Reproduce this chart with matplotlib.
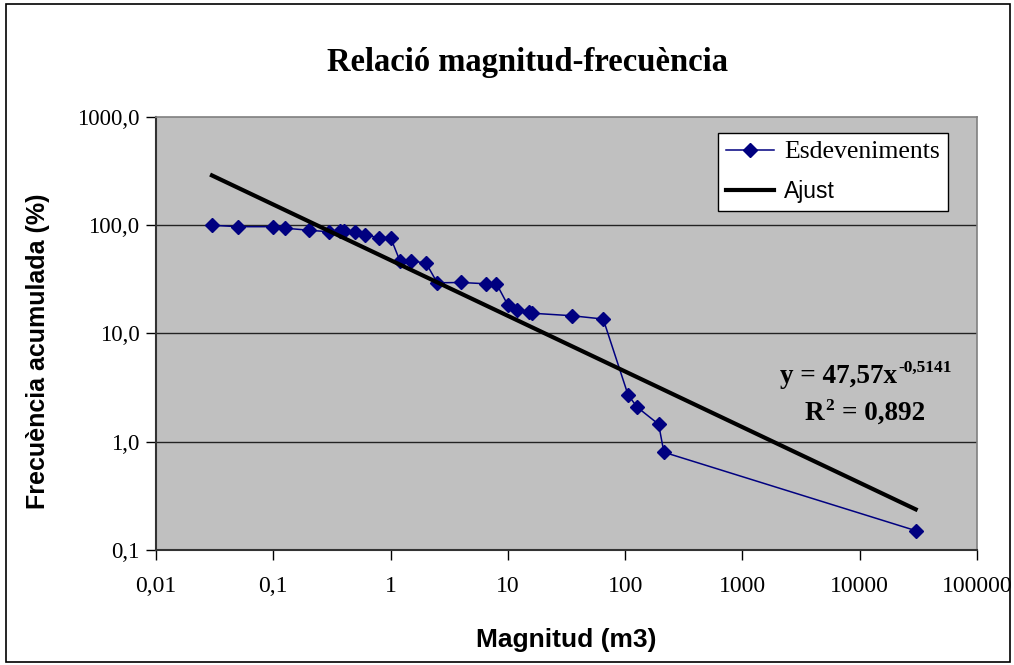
import numpy as np
import matplotlib
matplotlib.use("Agg")
import matplotlib.pyplot as plt
from matplotlib.patches import Rectangle
from matplotlib.ticker import FixedLocator, FixedFormatter, NullLocator

# cumulative frequency of events vs magnitude (m3)
magnitud = [0.03, 0.05, 0.1, 0.125, 0.2, 0.3, 0.37, 0.4, 0.5, 0.6, 0.8, 1.0,
            1.2, 1.5, 2.0, 2.5, 4.0, 6.5, 8.0, 10, 12, 15, 16, 35, 65,
            106, 127, 193, 214, 30000]
frecuencia = [100, 97, 97, 94, 90, 87, 89, 88, 87, 81, 77, 77,
              47, 46.5, 45, 29.4, 29.6, 28.8, 28.8, 18.3, 16.5, 15.9, 15.4,
              14.6, 13.6, 2.7, 2.08, 1.45, 0.80, 0.151]

# power-law fit from the chart
fit_a, fit_b = 47.57, -0.5141
fit_x = np.logspace(np.log10(0.03), np.log10(30000), 200)
fit_y = fit_a * fit_x ** fit_b

xticks = [0.01, 0.1, 1, 10, 100, 1000, 10000, 100000]
xlabels = ["0,01", "0,1", "1", "10", "100", "1000", "10000", "100000"]
yticks = [0.1, 1, 10, 100, 1000]
ylabels = ["0,1", "1,0", "10,0", "100,0", "1000,0"]

SERIF = "Liberation Serif"
SANS = "Liberation Sans"

fig = plt.figure(figsize=(10.14, 6.65), dpi=100)
fig.patches.append(Rectangle((6 / 1014, 3 / 665), 1004 / 1014, 658 / 665,
                             transform=fig.transFigure, fill=False,
                             edgecolor="black", lw=1.2))
ax = fig.add_axes([156 / 1014, 1 - 550 / 665, 821 / 1014, 433 / 665])
ax.set_facecolor("#c0c0c0")
ax.set_xscale("log")
ax.set_yscale("log")
ax.set_xlim(0.01, 100000)
ax.set_ylim(0.1, 1000)

for y in yticks[1:-1]:
    ax.axhline(y, color="#222222", lw=1.0, zorder=1)

ax.plot(magnitud, frecuencia, color="#000080", lw=1.1, marker="D",
        markersize=7, label="Esdeveniments", zorder=3)
ax.plot(fit_x, fit_y, color="black", lw=3, label="Ajust", zorder=4)

ax.xaxis.set_major_locator(FixedLocator(xticks))
ax.xaxis.set_major_formatter(FixedFormatter(xlabels))
ax.yaxis.set_major_locator(FixedLocator(yticks))
ax.yaxis.set_major_formatter(FixedFormatter(ylabels))
ax.xaxis.set_minor_locator(NullLocator())
ax.yaxis.set_minor_locator(NullLocator())
ax.tick_params(direction="out", length=7, width=1, colors="black",
               labelsize=17, pad=12)
ax.tick_params(axis="y", labelsize=16.5, pad=5)
for lab in ax.get_xticklabels() + ax.get_yticklabels():
    lab.set_family(SERIF)

for s in ("left", "bottom"):
    ax.spines[s].set_color("#333333")
    ax.spines[s].set_linewidth(1.5)
for s in ("top", "right"):
    ax.spines[s].set_color("#808080")
    ax.spines[s].set_linewidth(1.2)

fig.text(0.52, 1 - 62 / 665, "Relació magnitud-frecuència", ha="center",
         va="center", family=SERIF, weight="bold", fontsize=23.5)
ax.set_xlabel("Magnitud (m3)", family=SANS, weight="bold", fontsize=19)
ax.xaxis.set_label_coords(0.4994, (550 - 640) / 433)
ax.xaxis.label.set_va("center")
ax.set_ylabel("Frecuència acumulada (%)", family=SANS, weight="bold",
              fontsize=18)
ax.yaxis.set_label_coords((38 - 156) / 821, (550 - 351) / 433)
ax.yaxis.label.set_va("center")

leg = ax.legend(loc="upper right",
                bbox_to_anchor=((948 - 156) / 821, 1 - 16 / 433),
                frameon=True, fancybox=False, edgecolor="black",
                framealpha=1, fontsize=16.5, handlelength=2.1,
                handletextpad=0.45, borderpad=0.35, labelspacing=0.75,
                borderaxespad=0)
leg.get_frame().set_linewidth(1.0)
texts = leg.get_texts()
texts[0].set_family(SERIF)
texts[0].set_fontsize(18.5)
texts[1].set_family(SANS)

eq = ax.text(0.76, 0.386, "y = 47,57x", transform=ax.transAxes,
             family=SERIF, weight="bold", fontsize=19.5, ha="left",
             va="baseline")
ax.annotate("-0,5141", xy=(1, 1), xycoords=eq, xytext=(1, -9),
            textcoords="offset points", family=SERIF, weight="bold",
            fontsize=12.5, ha="left", va="bottom")
r2 = ax.text(0.79, 0.30, "R", transform=ax.transAxes, family=SERIF,
             weight="bold", fontsize=19.5, ha="left", va="baseline")
ax.annotate("2", xy=(1, 1), xycoords=r2, xytext=(0.5, -9),
            textcoords="offset points", family=SERIF, weight="bold",
            fontsize=12.5, ha="left", va="bottom")
ax.annotate("= 0,892", xy=(1, 0), xycoords=r2, xytext=(13, 0),
            textcoords="offset points", family=SERIF, weight="bold",
            fontsize=19.5, ha="left", va="bottom")

fig.savefig("out.png", dpi=100)
